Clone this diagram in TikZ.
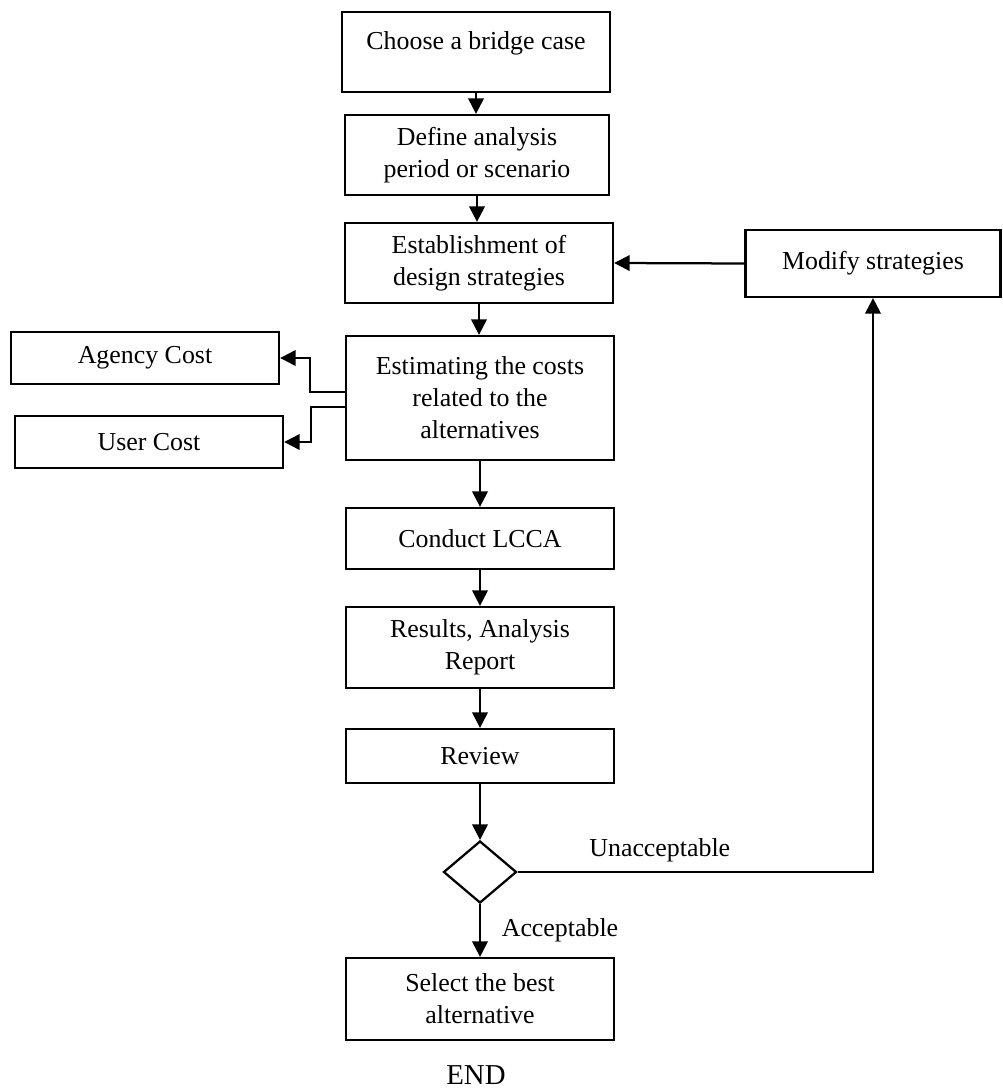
\documentclass[tikz,border=0pt]{standalone}
\usepackage{fontspec}
\setmainfont{Liberation Serif}
\usetikzlibrary{arrows.meta,shapes.geometric}
\tikzset{
    box/.style={draw,line width=1.6pt,align=center,inner sep=2pt,minimum width=6.7cm},
    decision/.style={diamond,draw,line width=1.6pt,minimum width=1.825cm,minimum height=1.55cm,inner sep=0pt},
    arrow/.style={-{Triangle[length=11pt,width=11pt]},line width=1.6pt}
}
\begin{document}
\begin{tikzpicture}[x=0.025cm,y=-0.025cm,every node/.style={font=\fontsize{18.4}{22.7}\selectfont}]
    \useasboundingbox (0,0) rectangle (1003,1090);
    % main column
    \node[box,minimum height=2cm] (choose) at (476,52) {Choose a bridge case\\[-5.7pt]\mbox{}};
    \node[box,minimum width=6.6cm,minimum height=2cm] (define) at (477,155) {Define analysis\\period or scenario};
    \node[box,minimum height=2cm] (establish) at (479,263) {Establishment of\\design strategies};
    \node[box,minimum height=3.1cm] (estimate) at (480,398) {Estimating the costs\\related to the\\alternatives};
    \node[box,minimum height=1.525cm] (lcca) at (480,538.5) {Conduct LCCA};
    \node[box,minimum height=2.025cm] (results) at (480,647.5) {Results, Analysis\\Report};
    \node[box,minimum height=1.35cm] (review) at (480,756) {Review};
    \node[decision] (check) at (480,872) {};
    \node[box,minimum height=2.05cm] (select) at (480,999) {Select the best\\alternative};
    \node[font=\fontsize{20.5}{24}\selectfont] (end) at (476,1075) {END};

    % side boxes
    \node[box,minimum height=1.675cm,minimum width=6.375cm] (modify) at (873,263.5) {Modify strategies};
    \node[box,minimum height=1.3cm] (agency) at (145,358) {Agency Cost};
    \node[box,minimum height=1.3cm] (user) at (149,442) {User Cost};

    % flow
    \foreach \a/\b in {choose/define,define/establish,establish/estimate,estimate/lcca,lcca/results,results/review,review/check}
        {\draw[arrow] (\a.south) -- (\a.south |- \b.north);}
    \draw[arrow] (check.south) -- node[right,xshift=0.4cm]{Acceptable} (check.south |- select.north);
    \draw[arrow] (check.east) -| node[pos=0.2,above,yshift=0.1cm]{Unacceptable} (modify.south);
    \draw[arrow] (modify.west) -- (establish.east);

    % cost branches
    \draw[arrow] ([yshift=0.15cm]estimate.west) -- ++(-35,0) |- (agency.east);
    \draw[arrow] ([yshift=-0.225cm]estimate.west) -- ++(-34,0) |- (user.east);
\end{tikzpicture}
\end{document}
